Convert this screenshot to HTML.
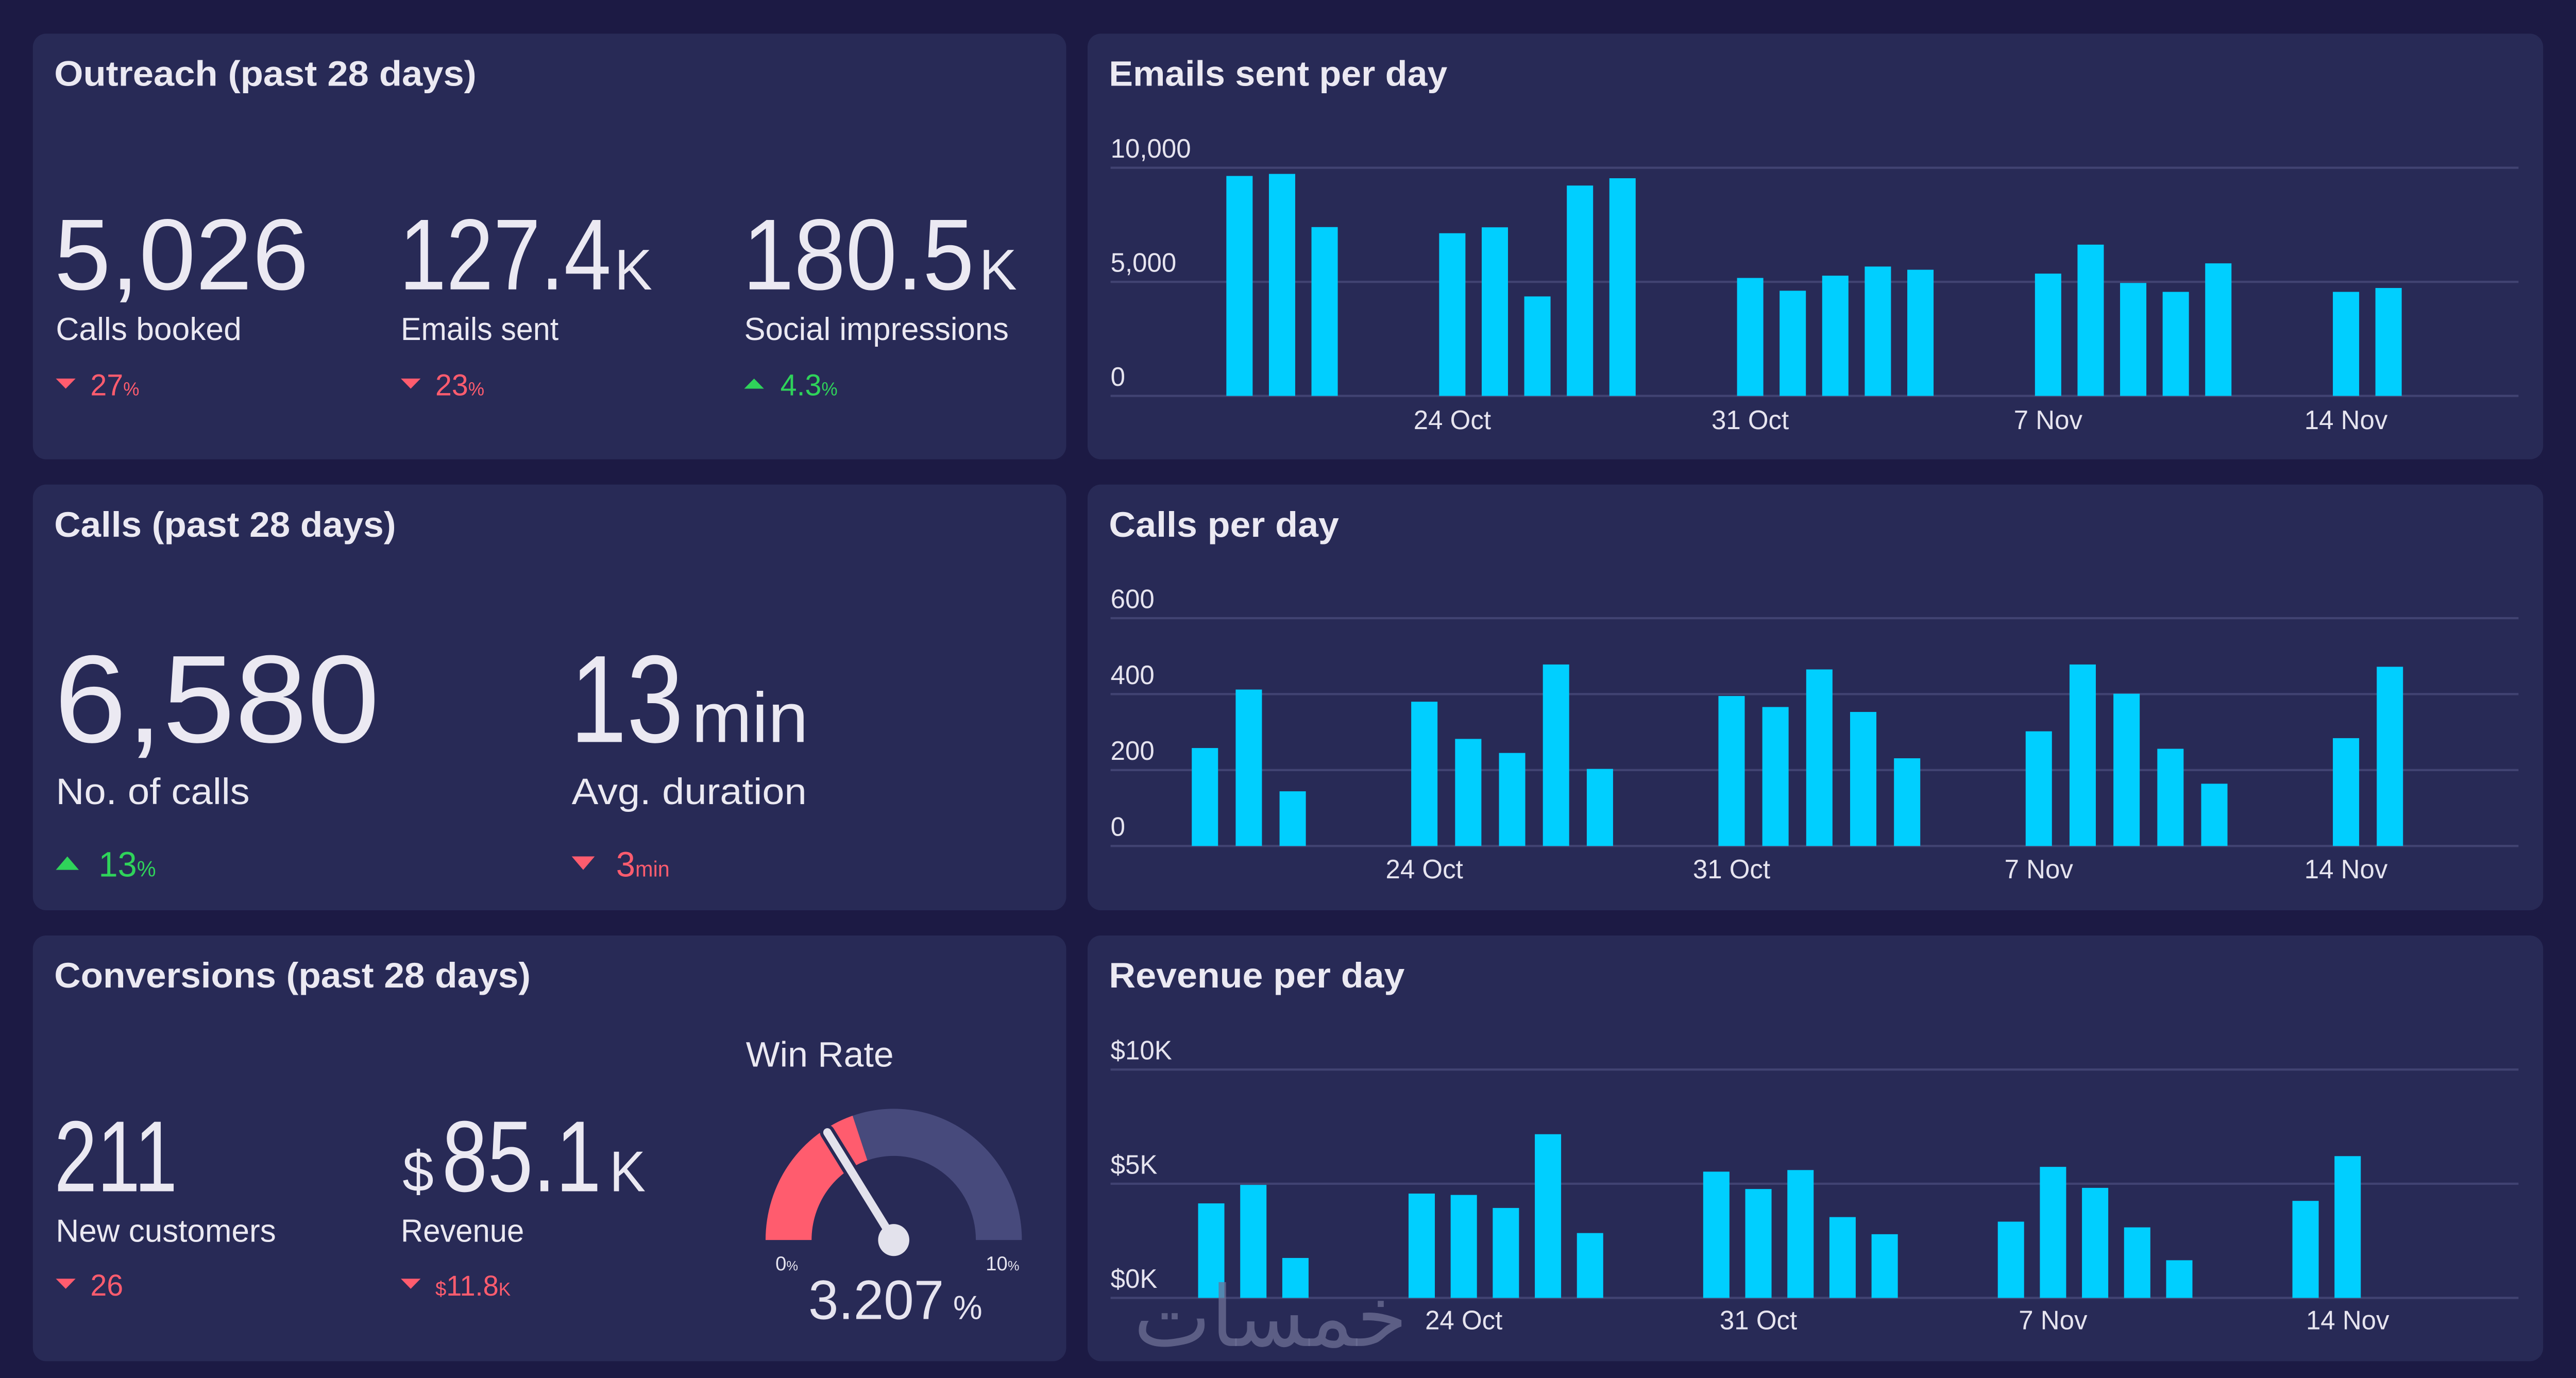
<!DOCTYPE html>
<html><head><meta charset="utf-8"><style>
html,body{margin:0;padding:0;background:#1c1a44;overflow:hidden;width:100%;height:100%}
svg{display:block;position:fixed;left:0;top:0;width:100vw;height:100vh}
text{font-family:"Liberation Sans","Noto Sans CJK SC",sans-serif}
</style></head><body>
<svg id="root" viewBox="0 0 1568 819" preserveAspectRatio="none">
<rect x="0" y="0" width="1568" height="819" fill="#1c1a44"/>
<g id="panels" fill="#282a56">
<rect x="20" y="20" width="629" height="253" rx="8"/>
<rect x="662" y="20" width="886" height="253" rx="8"/>
<rect x="20" y="288" width="629" height="253" rx="8"/>
<rect x="662" y="288" width="886" height="253" rx="8"/>
<rect x="20" y="556" width="629" height="253" rx="8"/>
<rect x="662" y="556" width="886" height="253" rx="8"/>
</g>
<g fill="#ebe9f2" font-weight="bold" font-size="21">
<text x="33" y="51" textLength="257" lengthAdjust="spacingAndGlyphs">Outreach (past 28 days)</text>
<text x="675" y="51" textLength="206" lengthAdjust="spacingAndGlyphs">Emails sent per day</text>
<text x="33" y="319" textLength="208" lengthAdjust="spacingAndGlyphs">Calls (past 28 days)</text>
<text x="675" y="319" textLength="140" lengthAdjust="spacingAndGlyphs">Calls per day</text>
<text x="33" y="587" textLength="290" lengthAdjust="spacingAndGlyphs">Conversions (past 28 days)</text>
<text x="675" y="587" textLength="180" lengthAdjust="spacingAndGlyphs">Revenue per day</text>
</g>
<!-- Outreach KPIs -->
<g fill="#ebe9f2">
<text x="33" y="172" font-size="60" textLength="155" lengthAdjust="spacingAndGlyphs">5,026</text>
<text x="34" y="202" font-size="19" textLength="113" lengthAdjust="spacingAndGlyphs">Calls booked</text>
<text x="243" y="172" font-size="60" textLength="129" lengthAdjust="spacingAndGlyphs">127.4</text>
<text x="374" y="172" font-size="34" textLength="23" lengthAdjust="spacingAndGlyphs">K</text>
<text x="244" y="202" font-size="19" textLength="96" lengthAdjust="spacingAndGlyphs">Emails sent</text>
<text x="452" y="172" font-size="60" textLength="141" lengthAdjust="spacingAndGlyphs">180.5</text>
<text x="596" y="172" font-size="34" textLength="23" lengthAdjust="spacingAndGlyphs">K</text>
<text x="453" y="202" font-size="19" textLength="161" lengthAdjust="spacingAndGlyphs">Social impressions</text>
</g>
<g fill="#ff5c6e">
<path d="M34 225 L46 225 L40 231 Z"/><text x="55" y="235" font-size="18">27<tspan font-size="11">%</tspan></text></g>
<g fill="#ff5c6e">
<path d="M244 225 L256 225 L250 231 Z"/><text x="265" y="235" font-size="18">23<tspan font-size="11">%</tspan></text></g>
<g fill="#2fd35a">
<path d="M453 231 L465 231 L459 225 Z"/><text x="475" y="235" font-size="18">4.3<tspan font-size="11">%</tspan></text></g>
<!-- Calls KPIs -->
<g fill="#ebe9f2">
<text x="33" y="441" font-size="74" textLength="198" lengthAdjust="spacingAndGlyphs">6,580</text>
<text x="34" y="478" font-size="22" textLength="118" lengthAdjust="spacingAndGlyphs">No. of calls</text>
<text x="347" y="441" font-size="74" textLength="69" lengthAdjust="spacingAndGlyphs">13</text>
<text x="421" y="441" font-size="42" textLength="71" lengthAdjust="spacingAndGlyphs">min</text>
<text x="348" y="478" font-size="22" textLength="143" lengthAdjust="spacingAndGlyphs">Avg. duration</text>
</g>
<g fill="#2fd35a">
<path d="M34 517 L48 517 L41 509 Z"/><text x="60" y="521" font-size="21">13<tspan font-size="13">%</tspan></text></g>
<g fill="#ff5c6e">
<path d="M348 509 L362 509 L355 517 Z"/><text x="375" y="521" font-size="21">3<tspan font-size="13">min</tspan></text></g>
<!-- Conversions -->
<g fill="#ebe9f2">
<text x="33" y="708" font-size="60" textLength="75" lengthAdjust="spacingAndGlyphs">211</text>
<text x="34" y="738" font-size="19" textLength="134" lengthAdjust="spacingAndGlyphs">New customers</text>
<text x="245" y="708" font-size="34" textLength="19" lengthAdjust="spacingAndGlyphs">$</text>
<text x="269" y="708" font-size="60" textLength="97" lengthAdjust="spacingAndGlyphs">85.1</text>
<text x="371" y="708" font-size="34" textLength="22" lengthAdjust="spacingAndGlyphs">K</text>
<text x="244" y="738" font-size="19" textLength="75" lengthAdjust="spacingAndGlyphs">Revenue</text>
<text x="454" y="634" font-size="21" textLength="90" lengthAdjust="spacingAndGlyphs">Win Rate</text>
</g>
<g fill="#ff5c6e">
<path d="M34 760 L46 760 L40 766 Z"/><text x="55" y="770" font-size="18">26</text></g>
<g fill="#ff5c6e">
<path d="M244 760 L256 760 L250 766 Z"/><text x="265" y="770"><tspan font-size="12">$</tspan><tspan font-size="17">11.8</tspan><tspan font-size="11">K</tspan></text></g>
<g id="gauge"></g>
<g id="charts"></g>
<text x="690" y="800" font-size="50" fill="#6e7096" fill-opacity="0.75" font-family="'DejaVu Sans',sans-serif">خمسات</text>
</svg>
<script>
// ---- chart data ----
const emailDays = [19,20,21,24,25,26,27,28,31,32,33,34,35,38,39,40,41,42,45,46];
const emailValues = [9640,9730,7400,7130,7390,4360,9220,9540,5170,4610,5270,5670,5530,5360,6630,4950,4560,5810,4560,4730];
const emailTicks = [0,5000,10000];
const emailTickLabels = ["0","5,000","10,000"];
const callDays = [19,20,21,24,25,26,27,28,31,32,33,34,35,38,39,40,41,42,45,46];
const callValues = [258,412,144,380,282,245,478,203,395,366,465,353,231,302,478,401,256,164,284,472];
const callTicks = [0,200,400,600];
const callTickLabels = ["0","200","400","600"];
const revenueDays = [18,19,20,23,24,25,26,27,30,31,32,33,34,37,38,39,40,41,44,45];
const revenueValues = [4140,4950,1750,4570,4510,3940,7170,2840,5530,4770,5600,3540,2790,3340,5740,4820,3090,1650,4250,6210];
const revenueTicks = [0,5000,10000];
const revenueTickLabels = ["$0K","$5K","$10K"];
const dateTicks = [24,31,38,45];
const dateTickLabels = ["24 Oct","31 Oct","7 Nov","14 Nov"];
const winRate = 3.207;
const winTarget = 3.96;
const winMax = 10;

const NS = "http://www.w3.org/2000/svg";
function mk(tag, attrs, parent){const e=document.createElementNS(NS,tag);for(const k in attrs)e.setAttribute(k,attrs[k]);parent.appendChild(e);return e;}
function linear(d0,d1,r0,r1){return v=>r0+(v-d0)/(d1-d0)*(r1-r0);}

function drawChart(name, days, vals, ticks, tickLabels, yMax, yTop, yBottom, x24, x45, labelY){
  const g = mk("g",{},document.getElementById("charts"));
  
  
  const y = linear(0,yMax,yBottom,yTop);
  const x = linear(24,45,x24,x45);
  ticks.forEach((t,i)=>{
    const ln = mk("line",{x1:676,x2:1533,y1:y(t),y2:y(t),stroke:"#414372","stroke-width":1.3},g);
    
    
    const tx = mk("text",{x:676,y:y(t)-6,"font-size":16,fill:"#e6e4ef"},g);
    tx.textContent = tickLabels[i];
    
    
  });
  days.forEach((d,i)=>{
    const r = mk("rect",{x:x(d)-8,y:y(vals[i]),width:16,height:yBottom-y(vals[i]),fill:"#00cfff"},g);
    
    
  });
  dateTicks.forEach((d,i)=>{
    const tx = mk("text",{x:x(d),y:labelY,"font-size":16,fill:"#e6e4ef","text-anchor":"middle"},g);
    tx.textContent = dateTickLabels[i];
    
    
  });
}
drawChart("emails-chart", emailDays, emailValues, emailTicks, emailTickLabels, 10000, 99.7, 235.3, 884, 1428, 255);
drawChart("calls-chart", callDays, callValues, callTicks, callTickLabels, 600, 367.4, 502.8, 867, 1428, 522);
drawChart("revenue-chart", revenueDays, revenueValues, revenueTicks, revenueTickLabels, 10000, 635.7, 771.4, 891, 1429, 790);

// ---- gauge ----
(function(){
  const g = document.getElementById("gauge");
  const cx=544, cy=737, R=78, r=50;
  const ang = v => Math.PI - (v/winMax)*Math.PI;
  function arc(a0,a1){
    const p=(rad,a)=>[cx+rad*Math.cos(a), cy-rad*Math.sin(a)];
    const [x0,y0]=p(R,a0),[x1,y1]=p(R,a1),[x2,y2]=p(r,a1),[x3,y3]=p(r,a0);
    return `M${x0} ${y0} A${R} ${R} 0 0 1 ${x1} ${y1} L${x2} ${y2} A${r} ${r} 0 0 0 ${x3} ${y3} Z`;
  }
  const bg = mk("path",{d:arc(ang(winTarget),0),fill:"#474a7c"},g);
  
  
  const fg = mk("path",{d:arc(Math.PI,ang(winTarget)),fill:"#ff5c6e"},g);
  
  
  const a = ang(winRate);
  const tx = cx+R*0.97*Math.cos(a), ty = cy-R*0.97*Math.sin(a);
  const outl = mk("line",{x1:cx,y1:cy,x2:tx,y2:ty,stroke:"#282a56","stroke-width":9,"stroke-linecap":"round"},g);
  
  
  const nd = mk("line",{x1:cx,y1:cy,x2:tx,y2:ty,stroke:"#e3e2ec","stroke-width":5,"stroke-linecap":"round"},g);
  
  
  const knob = mk("circle",{cx:cx,cy:cy,r:9.5,fill:"#e3e2ec"},g);
  
  
  const l0 = mk("text",{x:472,y:755,"font-size":12,fill:"#e6e4ef"},g);
  l0.innerHTML = '0<tspan font-size="8">%</tspan>';
  
  
  const l1 = mk("text",{x:600,y:755,"font-size":12,fill:"#e6e4ef"},g);
  l1.innerHTML = '10<tspan font-size="8">%</tspan>';
  
  
  const v = mk("text",{x:545,y:784,"font-size":33,fill:"#e6e4ef","text-anchor":"middle"},g);
  v.innerHTML = winRate.toFixed(3)+'<tspan font-size="20"> %</tspan>';
  
  
})();
</script>
</body></html>
